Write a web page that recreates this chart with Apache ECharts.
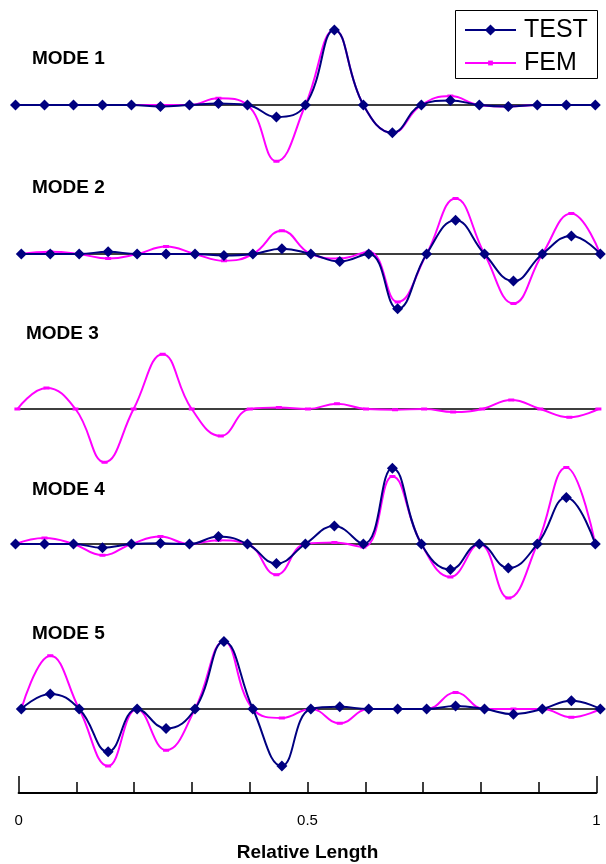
<!DOCTYPE html>
<html>
<head>
<meta charset="utf-8">
<script src="https://cdn.jsdelivr.net/npm/echarts@6/dist/echarts.min.js"></script>
<style>
html,body{margin:0;padding:0;background:#fff;}
#chart{width:606px;height:864px;}
</style>
</head>
<body>
<div id="chart"></div>
<script>
// Relative length positions of the measurement points
const positions = [0,0.05,0.1,0.15,0.2,0.25,0.3,0.35,0.4,0.45,0.5,0.55,0.6,0.65,0.7,0.75,0.8,0.85,0.9,0.95,1];
const modeNames = ['MODE 1','MODE 2','MODE 3','MODE 4','MODE 5'];
const axisTickLabels = ['0','0.5','1'];

// Normalised mode shapes
const mode1Test = [0,0,0,0,0,-0.02,0,0.02,0,-0.16,0,1.0,0,-0.37,0,0.06,0,-0.02,0,0,0];
const mode1Fem  = [0,0,0,0,0,0,0,0.09,0,-0.75,0,1.0,0,-0.37,0,0.12,0,-0.02,0,0,0];
const mode2Test = [0,0,0,0.03,0,0,0,-0.02,0,0.07,0,-0.10,0,-0.73,0,0.45,0,-0.36,0,0.24,0];
const mode2Fem  = [0,0.03,0,-0.06,0,0.10,0,-0.09,0,0.31,0,-0.06,0.03,-0.64,0,0.74,0,-0.66,0,0.54,0];
const mode3Test = null;
const mode3Fem  = [0,0.28,0,-0.71,0,0.73,0,-0.36,0,0.02,0,0.07,0,-0.01,0,-0.04,0,0.12,0,-0.11,0];
const mode4Test = [0,0,0,-0.05,0,0.01,0,0.10,0,-0.26,0,0.24,0,1.01,0,-0.34,0,-0.32,0,0.62,0];
const mode4Fem  = [0,0.08,0,-0.15,0,0.10,0,0.05,0,-0.41,0,0.02,-0.04,0.90,0,-0.44,0,-0.72,0,1.02,0];
const mode5Test = [0,0.20,0,-0.57,0,-0.26,0,0.90,0,-0.76,0,0.03,0,0,0,0.04,0,-0.07,0,0.11,0];
const mode5Fem  = [0,0.71,0,-0.76,0,-0.55,0,0.90,0,-0.12,0,-0.19,0,0,0,0.22,0,0,0,-0.11,0];

const testSets = [mode1Test, mode2Test, mode3Test, mode4Test, mode5Test];
const femSets  = [mode1Fem, mode2Fem, mode3Fem, mode4Fem, mode5Fem];

// layout
const baselines = [105, 254, 409, 544, 709];
const gridLR = [[15.5,10.7],[21.3,5.7],[17.4,7.6],[15.5,10.7],[21.3,5.7]];
const labelPos = [[32,49],[32,178],[26,324],[32,480],[32,624]];
const PX = 75, YMAX = 1.1;
const NAVY = '#000080', MAG = '#ff00ff';
const FONT = '"Liberation Sans", Arial, sans-serif';

const grids = [], xAxes = [], yAxes = [], series = [], titles = [];
for (let k = 0; k < 5; k++) {
  grids.push({left: gridLR[k][0], right: gridLR[k][1], top: baselines[k] - YMAX*PX, height: 2*YMAX*PX});
  xAxes.push({type:'value', gridIndex:k, min:0, max:1, axisLine:{show:true, onZero:true, lineStyle:{color:'#000', width:1.5}},
    axisTick:{show:false}, axisLabel:{show:false}, splitLine:{show:false}});
  yAxes.push({type:'value', gridIndex:k, min:-YMAX, max:YMAX, show:false, splitLine:{show:false}});
  titles.push({text: modeNames[k], left: labelPos[k][0], top: labelPos[k][1], padding:0,
    textStyle:{fontFamily:FONT, fontSize:19, fontWeight:'bold', color:'#000'}});
  series.push({name:'FEM', type:'line', xAxisIndex:k, yAxisIndex:k, smooth:0.45,
    data: positions.map((x,i)=>[x, femSets[k][i]]),
    symbol:'rect', symbolSize:[6,3], itemStyle:{color:MAG}, lineStyle:{color:MAG, width:2}, z:3, clip:false});
  if (testSets[k]) {
    series.push({name:'TEST', type:'line', xAxisIndex:k, yAxisIndex:k, smooth:0.45,
      data: positions.map((x,i)=>[x, testSets[k][i]]),
      symbol:'diamond', symbolSize:[11,11], itemStyle:{color:NAVY}, lineStyle:{color:NAVY, width:2}, z:4, clip:false});
  }
}
// bottom axis grids
grids.push({left:18.6, right:9.6, top:700, height:93});
grids.push({left:18.6, right:9.6, top:700, height:93});
xAxes.push({type:'value', gridIndex:5, min:0, max:1, interval:0.1,
  axisLine:{show:true, onZero:false, lineStyle:{color:'#000', width:2}},
  axisTick:{show:true, inside:true, length:11, lineStyle:{color:'#000', width:1.5}},
  axisLabel:{show:true, margin:20, fontFamily:FONT, fontSize:15, color:'#000',
    formatter: v => Math.abs(v) < 1e-9 ? axisTickLabels[0] : Math.abs(v-0.5) < 1e-9 ? axisTickLabels[1] : Math.abs(v-1) < 1e-9 ? axisTickLabels[2] : ''},
  splitLine:{show:false},
  name:'Relative Length', nameLocation:'middle', nameGap:50,
  nameTextStyle:{fontFamily:FONT, fontSize:19, fontWeight:'bold', color:'#000'}});
xAxes.push({type:'value', gridIndex:6, min:0, max:1, interval:1,
  axisLine:{show:false, onZero:false},
  axisTick:{show:true, inside:true, length:17, lineStyle:{color:'#000', width:1.5}},
  axisLabel:{show:false}, splitLine:{show:false}});
yAxes.push({type:'value', gridIndex:5, min:0, max:1, show:false, splitLine:{show:false}});
yAxes.push({type:'value', gridIndex:6, min:0, max:1, show:false, splitLine:{show:false}});

const option = {
  animation:false,
  backgroundColor:'#fff',
  title: titles,
  grid: grids,
  xAxis: xAxes,
  yAxis: yAxes,
  legend: [
    {data:['TEST'], left:464, top:17.5, padding:0, itemWidth:51, itemHeight:14, selectedMode:false,
      textStyle:{fontFamily:FONT, fontSize:25, color:'#000', padding:[0,0,0,3]}},
    {data:['FEM'], left:464, top:50.5, padding:0, itemWidth:51, itemHeight:6, selectedMode:false,
      textStyle:{fontFamily:FONT, fontSize:25, color:'#000', padding:[0,0,0,3]}}
  ],
  graphic: [{type:'rect', left:455, top:10, shape:{width:142, height:68}, style:{fill:'#fff', stroke:'#000', lineWidth:1}, z:-1}],
  series: series
};
const chart = echarts.init(document.getElementById('chart'), null, {renderer:'canvas'});
chart.setOption(option);
</script>
</body>
</html>
